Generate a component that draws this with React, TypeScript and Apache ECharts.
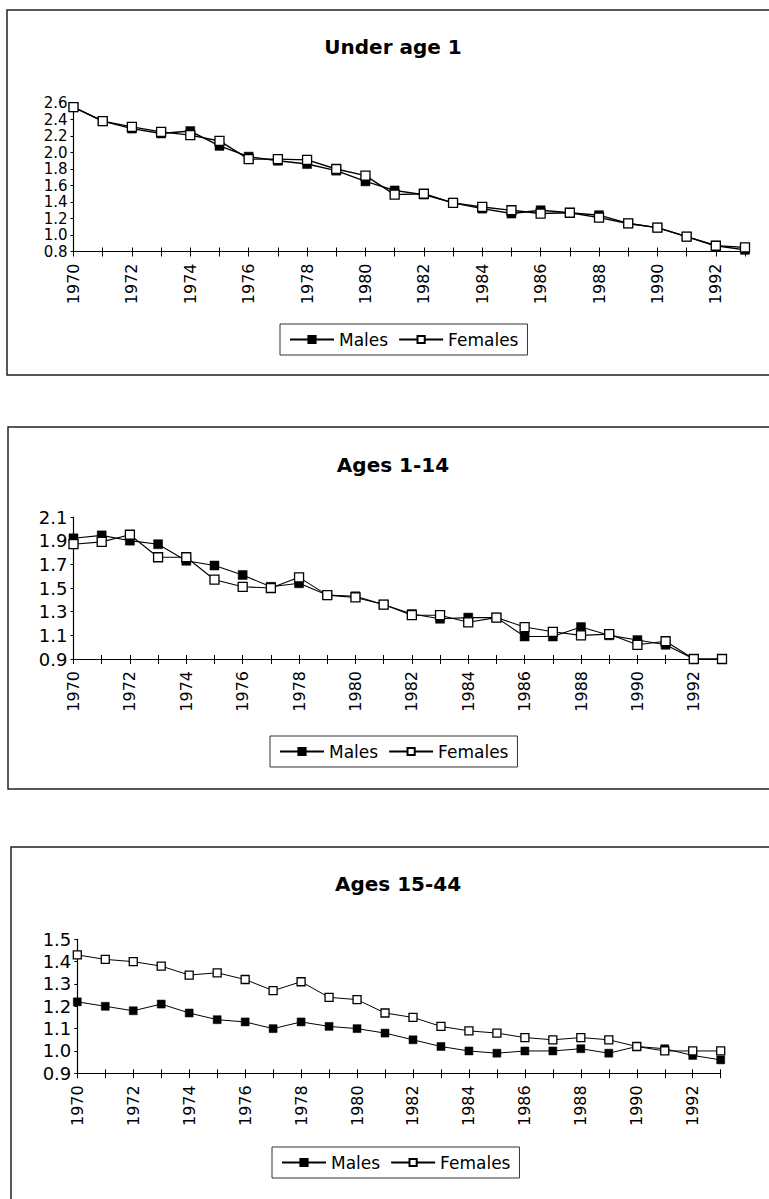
import React, { useEffect, useRef } from "react";
import * as echarts from "echarts";

const years = [
  "1970", "1971", "1972", "1973", "1974", "1975", "1976", "1977",
  "1978", "1979", "1980", "1981", "1982", "1983", "1984", "1985",
  "1986", "1987", "1988", "1989", "1990", "1991", "1992", "1993",
];

const seriesNames = ["Males", "Females"];
const titles = ["Under age 1", "Ages 1-14", "Ages 15-44"];

const under1Males = [2.55, 2.38, 2.29, 2.23, 2.26, 2.08, 1.95, 1.9, 1.86, 1.78, 1.65, 1.54, 1.49, 1.39, 1.32, 1.26, 1.3, 1.27, 1.24, 1.14, 1.09, 0.98, 0.87, 0.82];
const under1Females = [2.55, 2.38, 2.31, 2.25, 2.21, 2.14, 1.92, 1.92, 1.91, 1.8, 1.72, 1.49, 1.5, 1.39, 1.34, 1.3, 1.26, 1.27, 1.21, 1.14, 1.09, 0.98, 0.87, 0.85];
const ages1to14Males = [1.92, 1.945, 1.9, 1.87, 1.73, 1.69, 1.61, 1.51, 1.54, 1.44, 1.43, 1.36, 1.28, 1.24, 1.25, 1.25, 1.09, 1.09, 1.17, 1.1, 1.06, 1.02, 0.9, 0.9];
const ages1to14Females = [1.87, 1.89, 1.95, 1.76, 1.76, 1.57, 1.51, 1.5, 1.59, 1.44, 1.42, 1.36, 1.27, 1.27, 1.21, 1.25, 1.17, 1.13, 1.1, 1.11, 1.02, 1.05, 0.9, 0.9];
const ages15to44Males = [1.22, 1.2, 1.18, 1.21, 1.17, 1.14, 1.13, 1.1, 1.13, 1.11, 1.1, 1.08, 1.05, 1.02, 1.0, 0.99, 1.0, 1.0, 1.01, 0.99, 1.02, 1.01, 0.98, 0.96];
const ages15to44Females = [1.43, 1.41, 1.4, 1.38, 1.34, 1.35, 1.32, 1.27, 1.31, 1.24, 1.23, 1.17, 1.15, 1.11, 1.09, 1.08, 1.06, 1.05, 1.06, 1.05, 1.02, 1.0, 1.0, 1.0];

const yTicks1 = [0.8, 1.0, 1.2, 1.4, 1.6, 1.8, 2.0, 2.2, 2.4, 2.6];
const yTicks2 = [0.9, 1.1, 1.3, 1.5, 1.7, 1.9, 2.1];
const yTicks3 = [0.9, 1.0, 1.1, 1.2, 1.3, 1.4, 1.5];

const panelData = [
  { males: under1Males, females: under1Females, ticks: yTicks1 },
  { males: ages1to14Males, females: ages1to14Females, ticks: yTicks2 },
  { males: ages15to44Males, females: ages15to44Females, ticks: yTicks3 },
];

// layout (pixel positions within the 769x1199 page)
const layout = [
  { grid: { left: 73.5, top: 103, width: 671.5, height: 148.5 }, border: { x: 7, y: 10, w: 800, h: 365 }, title: { x: 393, y: 47 }, legend: { left: 280, top: 324 }, sym: 9, lw: 1.4, yFont: 15 },
  { grid: { left: 73.5, top: 517, width: 648.5, height: 142 }, border: { x: 8, y: 427, w: 800, h: 362 }, title: { x: 393, y: 465 }, legend: { left: 270, top: 736 }, sym: 9, lw: 1.1, yFont: 18 },
  { grid: { left: 77.3, top: 939.3, width: 643.4, height: 134 }, border: { x: 11, y: 847, w: 800, h: 420 }, title: { x: 398, y: 884 }, legend: { left: 272, top: 1147 }, sym: 8, lw: 1, yFont: 18 },
];

const FONT = "DejaVu Sans";

export default function App() {
  const ref = useRef<HTMLDivElement>(null);

  useEffect(() => {
    document.body.style.margin = "0";
    if (!ref.current) return;
    const chart = echarts.init(ref.current, null, { renderer: "svg" });

    const grids: any[] = [];
    const xAxes: any[] = [];
    const yAxes: any[] = [];
    const series: any[] = [];
    const legends: any[] = [];
    const graphics: any[] = [];

    panelData.forEach((p, i) => {
      const L = layout[i];
      grids.push({ ...L.grid, containLabel: false });
      xAxes.push({
        type: "category",
        gridIndex: i,
        position: "bottom",
        data: years,
        boundaryGap: false,
        axisLine: { show: true, lineStyle: { color: "#000", width: 1.2 } },
        axisTick: { show: true, inside: false, length: 5, interval: 0, lineStyle: { color: "#000" } },
        axisLabel: {
          interval: 1,
          rotate: 90,
          margin: 12,
          color: "#000",
          fontFamily: FONT,
          fontSize: 16,
        },
        splitLine: { show: false },
      });
      xAxes.push({
        type: "category",
        gridIndex: i,
        position: "bottom",
        data: years,
        boundaryGap: false,
        axisLine: { show: false },
        axisTick: { show: true, inside: true, length: 4, interval: 0, lineStyle: { color: "#000" } },
        axisLabel: { show: false },
        splitLine: { show: false },
      });
      const tmin = p.ticks[0];
      const tmax = p.ticks[p.ticks.length - 1];
      yAxes.push({
        type: "value",
        gridIndex: i,
        min: tmin,
        max: tmax,
        axisLine: { show: true, lineStyle: { color: "#000", width: 1.2 } },
        axisTick: { show: true, length: 3, customValues: p.ticks, lineStyle: { color: "#000" } },
        axisLabel: {
          customValues: p.ticks,
          showMinLabel: true,
          showMaxLabel: true,
          hideOverlap: false,
          formatter: (v: number) => v.toFixed(1),
          margin: 6,
          color: "#000",
          fontFamily: FONT,
          fontSize: L.yFont,
        },
        splitLine: { show: false },
      });
      const xIdx = i * 2;
      series.push({
        name: seriesNames[0],
        type: "line",
        xAxisIndex: xIdx,
        yAxisIndex: i,
        data: p.males,
        symbol: "rect",
        symbolSize: L.sym,
        showAllSymbol: true,
        lineStyle: { color: "#000", width: L.lw },
        itemStyle: { color: "#000", borderColor: "#000", borderWidth: 0.5 },
        emphasis: { disabled: true },
      });
      series.push({
        name: seriesNames[1],
        type: "line",
        xAxisIndex: xIdx,
        yAxisIndex: i,
        data: p.females,
        symbol: "rect",
        symbolSize: L.sym,
        showAllSymbol: true,
        lineStyle: { color: "#000", width: L.lw },
        itemStyle: { color: "#fff", borderColor: "#000", borderWidth: 1.3 },
        emphasis: { disabled: true },
      });
      legends.push({
        data: seriesNames,
        left: L.legend.left,
        top: L.legend.top,
        orient: "horizontal",
        padding: [7, 9, 7, 9],
        itemWidth: 44,
        itemHeight: 9,
        itemGap: 10,
        borderColor: "#333",
        borderWidth: 1,
        selectedMode: false,
        textStyle: { color: "#000", fontFamily: FONT, fontSize: 17 },
      });
      graphics.push({
        type: "rect",
        shape: { x: L.border.x, y: L.border.y, width: L.border.w, height: L.border.h },
        style: { fill: "none", stroke: "#222", lineWidth: 1.5 },
        silent: true,
        z: -1,
      });
      graphics.push({
        type: "text",
        x: L.title.x,
        y: L.title.y,
        style: {
          text: titles[i],
          align: "center",
          verticalAlign: "middle",
          fontFamily: FONT,
          fontWeight: "bold",
          fontSize: 20,
          fill: "#000",
        },
        silent: true,
      });
    });

    chart.setOption({
      animation: false,
      backgroundColor: "#fff",
      grid: grids,
      xAxis: xAxes,
      yAxis: yAxes,
      series,
      legend: legends,
      graphic: graphics,
      tooltip: { show: false },
    });

    return () => chart.dispose();
  }, []);

  return (
    <div style={{ position: "fixed", left: 0, top: 0, width: 769, height: 1199, background: "#fff" }}>
      <div ref={ref} style={{ width: 769, height: 1199 }} />
    </div>
  );
}
